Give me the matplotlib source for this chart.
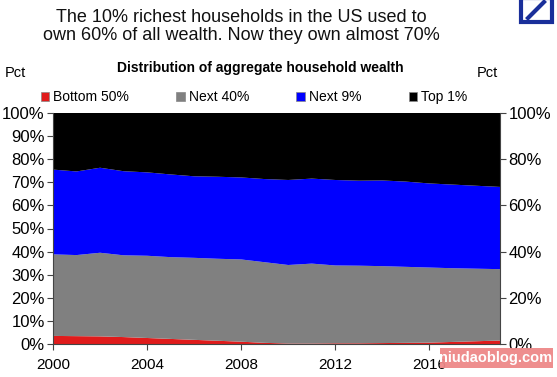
import matplotlib
matplotlib.use("Agg")
import matplotlib.pyplot as plt
from matplotlib.patches import Rectangle, Patch
from matplotlib.lines import Line2D

plt.rcParams['font.family'] = ['Liberation Sans', 'DejaVu Sans']

years = list(range(2000, 2020))
bottom_50 = [3.5, 3.4, 3.3, 3.0, 2.6, 2.2, 1.8, 1.4, 1.0, 0.5, 0.2, 0.2, 0.3, 0.3, 0.4, 0.5, 0.6, 0.9, 1.2, 1.5]
next_40 = [35.3, 35.1, 36.2, 35.4, 35.6, 35.4, 35.5, 35.5, 35.6, 34.9, 34.0, 34.6, 33.7, 33.6, 33.3, 32.9, 32.5, 31.9, 31.4, 30.9]
next_9 = [36.7, 36.2, 36.8, 36.4, 36.1, 35.8, 35.3, 35.5, 35.5, 36.0, 36.8, 36.8, 37.0, 36.8, 37.1, 36.9, 36.4, 36.2, 35.9, 35.6]
top_1 = [24.5, 25.3, 23.7, 25.2, 25.7, 26.6, 27.4, 27.6, 27.9, 28.6, 29.0, 28.4, 29.0, 29.3, 29.2, 29.7, 30.5, 31.0, 31.5, 32.0]

labels = ["Bottom 50%", "Next 40%", "Next 9%", "Top 1%"]
colors = ["#e01b1b", "#808080", "#0000ff", "#000000"]
x_ticks = [2000, 2004, 2008, 2012, 2016]
left_ticks = list(range(0, 101, 10))
right_ticks = list(range(0, 101, 20))

fig = plt.figure(figsize=(5.57, 3.77), dpi=100)
ax = fig.add_axes([53/557, 33/377, 447/557, 231/377])
ax.stackplot(years, bottom_50, next_40, next_9, top_1, colors=colors, linewidth=0)
ax.set_xlim(2000, 2019)
ax.set_ylim(0, 100)
ax.set_xticks(x_ticks)
ax.set_xticklabels([str(t) for t in x_ticks], fontsize=11)
ax.set_yticks(left_ticks)
ax.set_yticklabels([f"{t}%" for t in left_ticks], fontsize=12)
for s in ["top", "right"]:
    ax.spines[s].set_visible(False)
ax.spines["left"].set_color("#444444")
ax.spines["bottom"].set_color("#444444")
ax.tick_params(axis="both", length=4, color="#444444", pad=2)
ax.tick_params(axis="x", pad=6)

ax2 = ax.twinx()
ax2.set_ylim(0, 100)
ax2.set_yticks(right_ticks)
ax2.set_yticklabels([f"{t}%" for t in right_ticks], fontsize=12)
for s in ["top", "left", "bottom"]:
    ax2.spines[s].set_visible(False)
ax2.spines["right"].set_color("#444444")
ax2.tick_params(axis="y", length=4, color="#444444", pad=2)

fig.text(241/557, 1 - 9/377, "The 10% richest households in the US used to\nown 60% of all wealth. Now they own almost 70%",
         ha="center", va="top", fontsize=13, linespacing=1.05, color="#111111")
fig.text(260/557, 1 - 68/377, "Distribution of aggregate household wealth",
         ha="center", va="center", fontsize=10, fontweight="bold")
fig.text(5/557, 1 - 73/377, "Pct", ha="left", va="center", fontsize=10.5)
fig.text(477/557, 1 - 73/377, "Pct", ha="left", va="center", fontsize=10.5)

handles = [Patch(facecolor=c, edgecolor="#888888", linewidth=0.5) for c in colors]
fig.legend(handles, labels, ncol=4, loc="center", bbox_to_anchor=(254/557, 1 - 97/377),
           frameon=False, fontsize=10, handlelength=0.6, handleheight=0.6,
           handletextpad=0.3, columnspacing=3.4, borderaxespad=0)

# logo
fig.add_artist(Rectangle((521/557, 1 - 22/377), 31/557, 24/377, transform=fig.transFigure,
                         facecolor="white", edgecolor="#1a2f9a", linewidth=3, clip_on=False))
fig.add_artist(Line2D([528/557, 544/557], [1 - 18/377, 1 - 2/377], transform=fig.transFigure,
                      color="#1a2f9a", linewidth=3))

# watermark
fig.add_artist(Rectangle((440/557, 1 - 368/377), 113/557, 20/377, transform=fig.transFigure,
                         facecolor="#ee8888", edgecolor="none", alpha=0.95))
fig.text(496/557, 1 - 358/377, "niudaoblog.com", ha="center", va="center",
         fontsize=10.5, color="white", fontweight="bold")

fig.savefig("out.png", dpi=100)
